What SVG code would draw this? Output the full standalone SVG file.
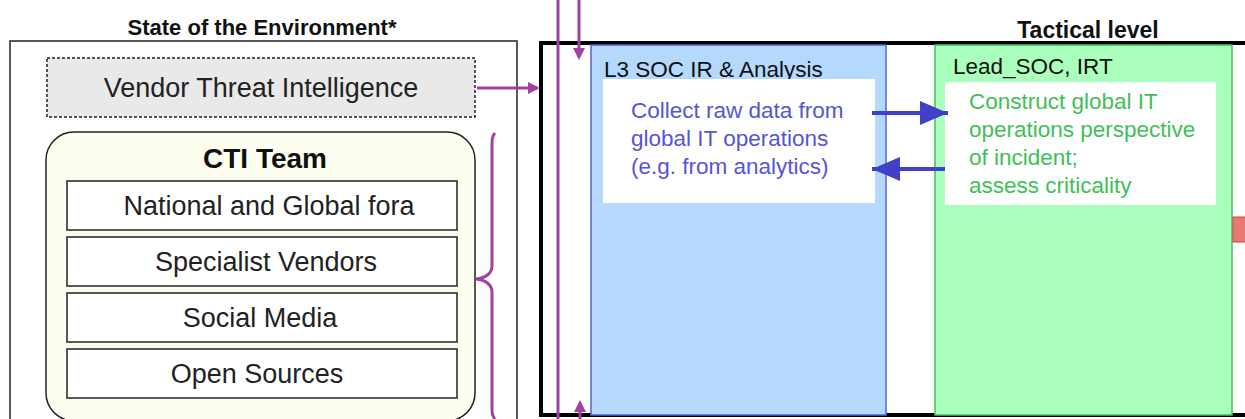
<svg xmlns="http://www.w3.org/2000/svg" width="1245" height="419" viewBox="0 0 1245 419">
<defs>
<style>
text{font-family:"Liberation Sans",Arial,sans-serif}
.t{font-size:22px;font-weight:bold;fill:#111;text-anchor:middle}
.big{font-size:27px;fill:#222;text-anchor:middle}
.src{font-size:27px;fill:#222;text-anchor:middle}
.box{fill:#fff;stroke:#222;stroke-width:1.5}
.lane{font-size:22.5px;fill:#111}
.bl{font-size:22.5px;fill:#5555d5}
.gr{font-size:22.5px;fill:#3fbf58}
.pur{stroke:#a040a0;stroke-width:3;fill:none}
.blu{stroke:#4040c8;stroke-width:4;fill:none}
</style>
<marker id="ap" markerWidth="4" markerHeight="4" refX="3" refY="2" orient="auto" markerUnits="strokeWidth"><path d="M0,0 L4,2 L0,4 z" fill="#a040a0"/></marker>
<marker id="ab" markerWidth="7" markerHeight="6" refX="7" refY="3" orient="auto" markerUnits="strokeWidth"><path d="M0,0 L7,3 L0,6 z" fill="#4040c8"/></marker>
</defs>

<g id="env">
<text class="t" x="262" y="35">State of the Environment*</text>
<rect x="10" y="41" width="507" height="390" fill="#fff" stroke="#222" stroke-width="1.5"/>
</g>
<g id="vendor">
<rect x="47" y="58" width="428" height="59" fill="#e9e9e9" stroke="#222" stroke-width="1.5" stroke-dasharray="3,2"/>
<text class="big" x="261" y="97">Vendor Threat Intelligence</text>
</g>
<g id="cti">
<rect x="46" y="132" width="429" height="289" rx="28" fill="#fdfdf0" stroke="#222" stroke-width="1.5"/>
<text x="265" y="168" style="font-size:28px;font-weight:bold;fill:#111;text-anchor:middle">CTI Team</text>
</g>
<g id="national"><rect class="box" x="67" y="181" width="390" height="49"/><text class="src" x="269" y="215">National and Global fora</text></g>
<g id="specialist"><rect class="box" x="67" y="237" width="390" height="49"/><text class="src" x="266" y="271">Specialist Vendors</text></g>
<g id="social"><rect class="box" x="67" y="293" width="390" height="49"/><text class="src" x="260" y="327">Social Media</text></g>
<g id="open"><rect class="box" x="67" y="349" width="390" height="49"/><text class="src" x="257" y="383">Open Sources</text></g>

<g id="tactical">
<text class="t" x="1088" y="38" style="font-size:23px">Tactical level</text>
<rect x="541" y="43" width="720" height="372" fill="#fff" stroke="#000" stroke-width="4"/>
</g>
<g id="l3">
<rect x="591" y="45" width="295" height="370" fill="#b4d9fd" stroke="#5565d5" stroke-width="1.5"/>
<text class="lane" x="604" y="77">L3 SOC IR &amp; Analysis</text>
<rect x="603" y="79" width="272" height="124" fill="#fff"/>
<text class="bl" x="631" y="118">Collect raw data from</text>
<text class="bl" x="631" y="146">global IT operations</text>
<text class="bl" x="631" y="174">(e.g. from analytics)</text>
</g>
<g id="lead">
<rect x="935" y="45" width="297" height="370" fill="#aaffbc" stroke="#45c060" stroke-width="1.5"/>
<text class="lane" x="953" y="74">Lead_SOC, IRT</text>
<rect x="945" y="82" width="271" height="123" fill="#fff"/>
<text class="gr" x="969" y="109">Construct global IT</text>
<text class="gr" x="969" y="137">operations perspective</text>
<text class="gr" x="969" y="165">of incident;</text>
<text class="gr" x="969" y="193">assess criticality</text>
</g>
<g id="red"><rect x="1233" y="217" width="14" height="25" fill="#e87a72" stroke="#d04040"/></g>

<g id="connectors">
<line class="pur" x1="477" y1="88" x2="537" y2="88" marker-end="url(#ap)"/>
<path class="pur" d="M495,133 C492,136 492,140 492,148 L492,266 C492,273 486,278 476,279 C486,280 492,285 492,292 L492,410 C492,415 493,417 495,419"/>
<line class="pur" x1="558" y1="0" x2="558" y2="419"/>
<line class="pur" x1="579" y1="0" x2="579" y2="57" marker-end="url(#ap)"/>
<line class="pur" x1="580" y1="419" x2="580" y2="403" marker-end="url(#ap)"/>
<line class="blu" x1="872" y1="113" x2="948" y2="113" marker-end="url(#ab)"/>
<line class="blu" x1="945" y1="169" x2="872" y2="169" marker-end="url(#ab)"/>
</g>
</svg>
